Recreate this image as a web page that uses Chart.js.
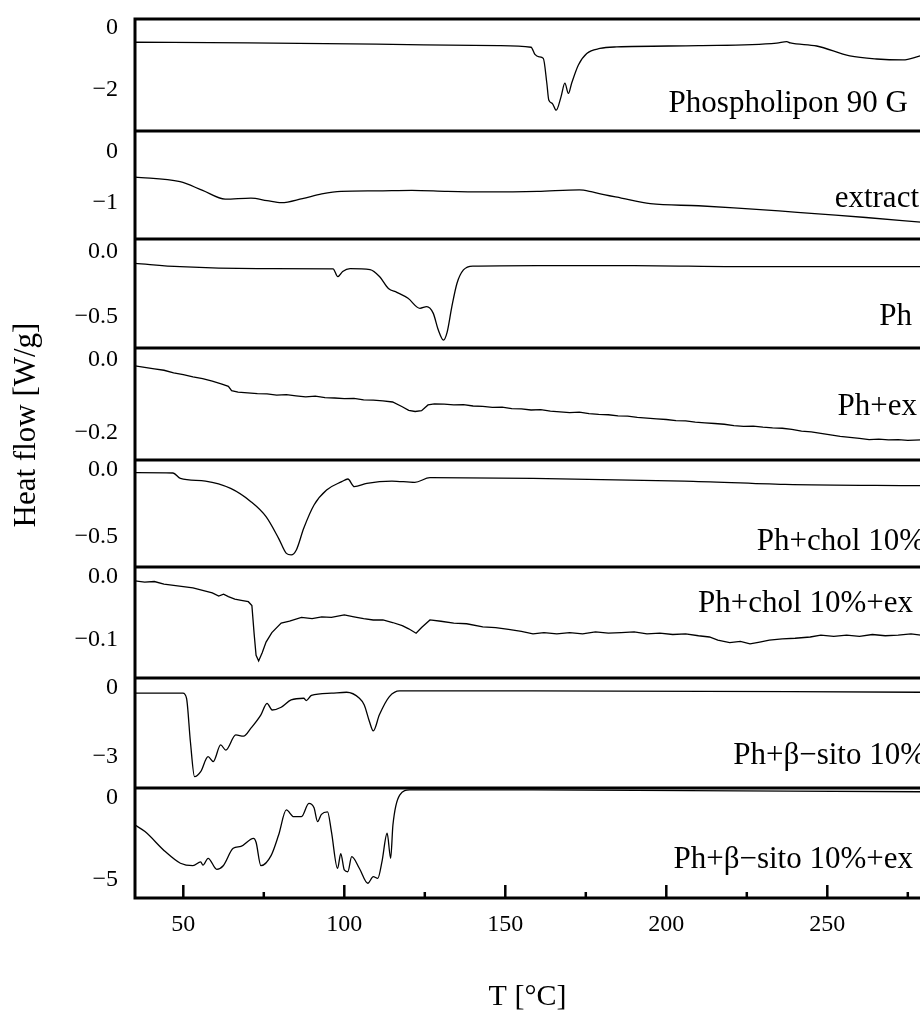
<!DOCTYPE html>
<html>
<head>
<meta charset="utf-8">
<script src="https://cdn.jsdelivr.net/npm/chart.js@4.4.0/dist/chart.umd.min.js"></script>
<title>DSC thermograms</title>
<style>
  html, body { margin: 0; padding: 0; background: #fff; overflow: hidden; }
</style>
</head>
<body>
<canvas id="myChart" width="945" height="1015"></canvas>

<script>
// temperature [°C] / heat flow [W/g], one pair of arrays per sample (top to bottom)
var phosT  = [35, 70, 110, 148, 158, 159.2, 160.5, 161.8, 162.9, 163.5, 164.6, 165.8, 167.3, 168.5, 169.6, 170.6, 172.7, 175.3, 179.4, 184.6, 210, 234.3, 237.4, 238.5, 246.7, 257, 265.3, 273.5, 278.8];
var phosHF = [-0.46, -0.48, -0.52, -0.57, -0.62, -0.85, -0.93, -0.98, -1.78, -2.32, -2.43, -2.65, -2.22, -1.78, -2.11, -1.78, -1.19, -0.82, -0.66, -0.61, -0.57, -0.49, -0.44, -0.48, -0.58, -0.90, -1.00, -1.03, -0.90];

var extT  = [35, 49, 56, 63, 71, 76, 80.5, 87, 93, 99, 110, 121, 132, 143, 160, 173, 177, 181, 186, 195, 210, 221, 235, 245, 262, 279];
var extHF = [-0.49, -0.58, -0.75, -0.92, -0.90, -0.95, -0.99, -0.91, -0.82, -0.77, -0.76, -0.75, -0.77, -0.78, -0.77, -0.74, -0.78, -0.84, -0.90, -1.01, -1.05, -1.09, -1.15, -1.20, -1.28, -1.37];

var phT  = [35, 49, 73, 96.5, 98, 99.5, 101.8, 108, 111, 113.7, 116.3, 119.8, 123.5, 125.6, 127.6, 129.2, 130.8, 131.9, 133.4, 135, 137, 140, 160, 190, 221, 250, 279];
var phHF = [-0.087, -0.113, -0.128, -0.130, -0.19, -0.15, -0.128, -0.135, -0.19, -0.28, -0.31, -0.356, -0.433, -0.42, -0.47, -0.60, -0.677, -0.62, -0.42, -0.24, -0.138, -0.108, -0.104, -0.104, -0.112, -0.113, -0.113];

var phExT  = [35, 38, 41, 44, 47, 50, 53, 56, 59, 62, 64, 65, 67, 70, 73, 76, 79, 82, 85, 88, 91, 94, 97, 100, 103, 106, 109, 112, 115, 118, 120, 122, 124, 126, 128, 131, 134, 137, 140, 143, 146, 149, 152, 155, 158, 161, 164, 167, 170, 173, 176, 179, 182, 185, 188, 191, 194, 197, 200, 203, 206, 209, 212, 215, 218, 221, 224, 227, 230, 233, 236, 239, 242, 245, 248, 251, 254, 257, 260, 263, 266, 269, 272, 275, 279];
var phExHF = [-0.016, -0.020, -0.024, -0.028, -0.035, -0.040, -0.046, -0.051, -0.058, -0.066, -0.072, -0.084, -0.088, -0.090, -0.092, -0.093, -0.096, -0.095, -0.098, -0.101, -0.099, -0.103, -0.104, -0.106, -0.105, -0.109, -0.110, -0.112, -0.115, -0.128, -0.138, -0.141, -0.139, -0.123, -0.120, -0.121, -0.123, -0.122, -0.126, -0.127, -0.130, -0.129, -0.133, -0.134, -0.137, -0.136, -0.140, -0.142, -0.144, -0.143, -0.147, -0.149, -0.150, -0.153, -0.154, -0.157, -0.159, -0.161, -0.163, -0.166, -0.167, -0.170, -0.172, -0.174, -0.176, -0.180, -0.182, -0.181, -0.184, -0.186, -0.187, -0.190, -0.195, -0.197, -0.201, -0.205, -0.209, -0.212, -0.215, -0.218, -0.217, -0.219, -0.218, -0.220, -0.219];

var cholT  = [35, 46.8, 49.1, 56.9, 64.7, 71, 75.7, 79.6, 82, 83.5, 85.1, 87.4, 90.6, 94.5, 99.2, 101.1, 103.1, 107, 114.8, 121.9, 126.6, 158.6, 205.6, 236.9, 278.8];
var cholHF = [-0.020, -0.022, -0.062, -0.082, -0.137, -0.236, -0.348, -0.510, -0.622, -0.634, -0.597, -0.435, -0.261, -0.149, -0.087, -0.067, -0.124, -0.099, -0.082, -0.092, -0.057, -0.062, -0.082, -0.107, -0.117];

var cholExT  = [35, 38, 41, 44, 47, 50, 53, 56, 59, 61, 62.5, 64, 66, 68, 70.2, 71.3, 72, 72.6, 73.4, 74.5, 75.7, 77.5, 80.4, 83, 86.7, 90, 93, 96, 100, 103, 106, 109, 112, 115, 118, 120, 122.3, 124, 126.6, 130, 134, 138, 143, 147, 151, 155, 158.6, 162, 166, 170, 174, 178, 182, 186, 190, 194, 198, 202, 206, 210, 213.4, 216, 219.7, 223, 226, 229, 232, 236, 240, 244.7, 248, 252, 256, 260, 264, 268, 272, 276, 279];
var cholExHF = [-0.006, -0.008, -0.007, -0.011, -0.013, -0.015, -0.017, -0.021, -0.025, -0.030, -0.027, -0.031, -0.035, -0.037, -0.039, -0.045, -0.090, -0.124, -0.133, -0.120, -0.103, -0.088, -0.073, -0.070, -0.064, -0.066, -0.063, -0.064, -0.060, -0.063, -0.066, -0.068, -0.068, -0.072, -0.077, -0.082, -0.089, -0.080, -0.068, -0.070, -0.073, -0.074, -0.079, -0.080, -0.083, -0.086, -0.090, -0.088, -0.090, -0.088, -0.090, -0.087, -0.089, -0.088, -0.087, -0.090, -0.089, -0.091, -0.090, -0.093, -0.095, -0.100, -0.104, -0.102, -0.106, -0.103, -0.100, -0.098, -0.097, -0.095, -0.092, -0.094, -0.092, -0.094, -0.091, -0.093, -0.092, -0.090, -0.092];

var sitoT  = [35, 49.9, 51, 52.2, 53.5, 55.4, 57.7, 59.3, 61.6, 63.2, 66.3, 68.7, 71, 74.1, 76, 77.6, 80.4, 83.5, 87.4, 88.2, 89.8, 96, 100.7, 104.7, 106.2, 107.8, 109, 110.9, 114, 117.2, 158.6, 278.8];
var sitoHF = [-0.23, -0.23, -0.45, -2.33, -3.86, -3.64, -2.99, -3.2, -2.48, -2.7, -2.04, -2.1, -1.75, -1.17, -0.67, -0.96, -0.84, -0.52, -0.45, -0.55, -0.33, -0.23, -0.19, -0.45, -0.74, -1.46, -1.87, -1.17, -0.38, -0.13, -0.13, -0.19];

var sitoExT  = [35, 38.1, 44.4, 49.1, 53, 55.4, 56.1, 57.7, 60.4, 62.4, 65.5, 67.9, 71.8, 72.6, 74.1, 77.3, 79.6, 82, 84.3, 86.7, 89, 90.6, 91.7, 92.9, 94.8, 96, 97.9, 98.9, 100, 101.1, 102.3, 104.7, 107.3, 109, 110.4, 111.7, 113.3, 114.4, 115.1, 117.2, 120.3, 158.6, 278.8];
var sitoExHF = [-1.65, -2.05, -3.27, -3.98, -4.13, -3.9, -4.1, -3.68, -4.35, -4.13, -3.07, -2.95, -2.46, -2.7, -4.13, -3.5, -2.26, -0.73, -1.14, -1.14, -0.33, -0.6, -1.44, -1.0, -0.85, -2.05, -4.29, -3.4, -4.39, -4.5, -3.58, -4.3, -5.2, -4.8, -4.9, -3.88, -2.15, -3.68, -1.65, 0.18, 0.49, 0.49, 0.38];

var sampleNames = ['Phospholipon 90 G', 'extract', 'Ph', 'Ph+ex', 'Ph+chol 10%', 'Ph+chol 10%+ex', 'Ph+β−sito 10%', 'Ph+β−sito 10%+ex'];
var noisy = [false, false, false, true, false, true, false, false];

// axis ticks and limits of every panel
var yTicks = [[0, -2], [0, -1], [0, -0.5], [0, -0.2], [0, -0.5], [0, -0.1], [0, -3], [0, -5]];
var yDecimals = [0, 0, 1, 1, 1, 1, 0, 0];
var yMin = [-3.32, -1.70, -0.738, -0.274, -0.724, -0.160, -4.35, -6.10];
var yMax = [0.29, 0.41, 0.10, 0.033, 0.075, 0.016, 0.43, 0.61];
var xTicks = [50, 100, 150, 200, 250];
var xMinorTicks = [75, 125, 175, 225, 275];

// layout only
var panelHeights = [112, 108, 109, 112, 107, 111, 110, 110];
var labelBaseline = [93, 76, 86, 67, 90, 45, 86, 80];   // px below panel top
var labelRight = [908, 919, 912, 917, 925, 913, 926, 913];

var seriesT = [phosT, extT, phT, phExT, cholT, cholExT, sitoT, sitoExT];
var seriesHF = [phosHF, extHF, phHF, phExHF, cholHF, cholExHF, sitoHF, sitoExHF];

var serif = 'Liberation Serif';

function fmt(v, d) {
    var s = Math.abs(v) < 1e-9 ? (0).toFixed(d) : v.toFixed(d);
    return s.replace('-', '\u2212');
}

var datasets = [];
var scales = {
    x: {
        type: 'linear', position: 'bottom', min: 35, max: 285,
        grid: { display: false, drawTicks: false },
        border: { display: false },
        afterBuildTicks: function (s) { s.ticks = xTicks.map(function (v) { return { value: v }; }); },
        afterFit: function (s) { s.height = 117; s.paddingLeft = 0; s.paddingRight = 0; },
        ticks: { color: '#000', padding: 12, maxRotation: 0, font: { family: serif, size: 24 } }
    }
};

sampleNames.forEach(function (name, i) {
    var id = 'y' + i;
    datasets.push({
        label: name,
        yAxisID: id,
        data: seriesT[i].map(function (t, k) { return { x: t, y: seriesHF[i][k] }; }),
        borderColor: '#000',
        borderWidth: 1.3,
        pointRadius: 0,
        fill: false,
        tension: noisy[i] ? 0 : 0.4,
        cubicInterpolationMode: noisy[i] ? 'default' : 'monotone'
    });
    scales[id] = {
        type: 'linear', position: 'left', stack: 'panels',
        stackWeight: panelHeights[i], weight: 10 - i,
        min: yMin[i], max: yMax[i],
        grid: { display: false, drawTicks: false },
        border: { display: false },
        afterBuildTicks: function (s) { s.ticks = yTicks[i].map(function (v) { return { value: v }; }); },
        afterFit: function (s) { s.width = 135; s.paddingTop = 0; s.paddingBottom = 0; },
        ticks: {
            color: '#000', padding: 17, font: { family: serif, size: 24 },
            callback: function (v) { return fmt(v, yDecimals[i]); }
        }
    };
});

// frames, inner x ticks, panel names and axis titles
var decor = {
    id: 'decor',
    afterDraw: function (chart) {
        var ctx = chart.ctx, a = chart.chartArea, xs = chart.scales.x;
        ctx.save();
        ctx.strokeStyle = '#000';
        ctx.lineWidth = 3;
        ctx.beginPath();
        sampleNames.forEach(function (n, i) {
            var s = chart.scales['y' + i];
            ctx.moveTo(a.left - 1.5, s.top);
            ctx.lineTo(chart.width, s.top);
        });
        ctx.moveTo(a.left - 1.5, a.bottom);
        ctx.lineTo(chart.width, a.bottom);
        ctx.moveTo(a.left, a.top - 1.5);
        ctx.lineTo(a.left, a.bottom + 1.5);
        ctx.stroke();

        ctx.lineWidth = 2.5;
        ctx.beginPath();
        xTicks.forEach(function (v) {
            var px = xs.getPixelForValue(v);
            ctx.moveTo(px, a.bottom);
            ctx.lineTo(px, a.bottom - 13);
        });
        xMinorTicks.forEach(function (v) {
            var px = xs.getPixelForValue(v);
            ctx.moveTo(px, a.bottom);
            ctx.lineTo(px, a.bottom - 6);
        });
        ctx.stroke();

        ctx.fillStyle = '#000';
        ctx.font = '31px "' + serif + '"';
        ctx.textAlign = 'right';
        ctx.textBaseline = 'alphabetic';
        sampleNames.forEach(function (n, i) {
            var s = chart.scales['y' + i];
            ctx.fillText(n, labelRight[i], s.top + labelBaseline[i]);
        });

        ctx.textAlign = 'center';
        ctx.textBaseline = 'middle';
        ctx.font = '30px "' + serif + '"';
        ctx.fillText('T [°C]', (a.left + 920) / 2, 997);

        ctx.translate(27, 425);
        ctx.rotate(-Math.PI / 2);
        ctx.font = '31px "' + serif + '"';
        ctx.fillText('Heat flow [W/g]', 0, 0);
        ctx.restore();
    }
};

var myChart = new Chart(document.getElementById('myChart'), {
    type: 'line',
    data: { datasets: datasets },
    options: {
        responsive: false,
        animation: false,
        events: [],
        layout: { padding: { top: 19, right: 5, bottom: 0, left: 0 } },
        plugins: { legend: { display: false }, tooltip: { enabled: false } },
        scales: scales
    },
    plugins: [decor]
});
</script>
</body>
</html>
